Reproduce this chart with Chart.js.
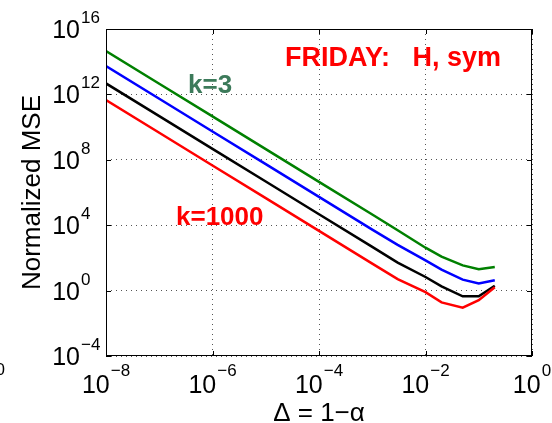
<!DOCTYPE html>
<html>
<head>
<meta charset="utf-8">
<script src="https://cdn.jsdelivr.net/npm/chart.js@4"></script>
<style>
  html, body { margin: 0; padding: 0; background: #fff; }
  canvas { display: block; }
</style>
</head>
<body>
<canvas id="mseChart" width="552" height="423"></canvas>
<script>
// Delta = 1 - alpha values where the MSE was evaluated
const deltaValues = [1e-8, 1e-7, 1e-6, 1e-5, 1e-4, 1e-3, 3e-3, 1e-2, 2e-2, 5e-2, 1e-1, 2e-1];

// Normalized MSE for each k (green is k=3, red is k=1000)
const mseGreen = [4.5e14, 4.5e12, 4.5e10, 4.5e8, 4.5e6, 4.5e4, 4.9e3, 420, 120, 35, 20, 28];
const mseBlue  = [5.4e13, 5.4e11, 5.4e9, 5.4e7, 5.4e5, 5.4e3, 630, 71, 19, 4.7, 2.7, 4.3];
const mseBlack = [4.7e12, 4.7e10, 4.7e8, 4.7e6, 4.7e4, 470, 51, 6.8, 1.8, 0.45, 0.45, 2.0];
const mseRed   = [4.5e11, 4.5e9, 4.5e7, 4.5e5, 4.5e3, 45, 5.0, 0.81, 0.19, 0.091, 0.26, 1.6];

// tick labels are written as 10^exp
const xTickExps = [-8, -6, -4, -2, 0];
const yTickExps = [-4, 0, 4, 8, 12, 16];

const FONT = '"Liberation Sans", Arial, Helvetica, sans-serif';

function toPoints(ys) {
    return deltaValues.map((x, i) => ({ x: x, y: ys[i] }));
}

function makeLine(ys, color, order) {
    return {
        data: toPoints(ys),
        borderColor: color,
        backgroundColor: color,
        borderWidth: 2.5,
        pointRadius: 0,
        tension: 0,
        fill: false,
        order: order
    };
}

function supText(exp) {
    return exp < 0 ? '\u2212' + Math.abs(exp) : String(exp);
}

// draws box, inward ticks, 10^n tick labels, axis titles and text notes
const axesDecor = {
    id: 'axesDecor',
    afterDatasetsDraw(chart) {
        const ctx = chart.ctx;
        const area = chart.chartArea;
        const xs = chart.scales.x;
        const ys = chart.scales.y;

        ctx.save();
        ctx.strokeStyle = '#000';
        ctx.lineWidth = 1;
        ctx.strokeRect(area.left + 0.5, area.top + 0.5, area.right - area.left - 1, area.bottom - area.top - 1);

        ctx.beginPath();
        xTickExps.forEach(e => {
            const px = Math.round(xs.getPixelForValue(Math.pow(10, e))) + 0.5;
            ctx.moveTo(px, area.bottom); ctx.lineTo(px, area.bottom - 5);
            ctx.moveTo(px, area.top); ctx.lineTo(px, area.top + 5);
        });
        yTickExps.forEach(e => {
            const py = Math.round(ys.getPixelForValue(Math.pow(10, e))) + 0.5;
            ctx.moveTo(area.left, py); ctx.lineTo(area.left + 5, py);
            ctx.moveTo(area.right, py); ctx.lineTo(area.right - 5, py);
        });
        ctx.stroke();

        ctx.fillStyle = '#000';
        ctx.textBaseline = 'alphabetic';

        // x tick labels, centred on the tick
        xTickExps.forEach(e => {
            const px = xs.getPixelForValue(Math.pow(10, e));
            ctx.font = '25px ' + FONT;
            const wBase = ctx.measureText('10').width;
            ctx.font = '17px ' + FONT;
            const wSup = ctx.measureText(supText(e)).width;
            const left = px - (wBase + wSup + 1) / 2;
            ctx.textAlign = 'left';
            ctx.font = '25px ' + FONT;
            ctx.fillText('10', left, 393);
            ctx.font = '17px ' + FONT;
            ctx.fillText(supText(e), left + wBase + 1, 376);
        });

        // y tick labels, right edge of "10" fixed
        yTickExps.forEach(e => {
            const py = ys.getPixelForValue(Math.pow(10, e));
            ctx.font = '25px ' + FONT;
            ctx.textAlign = 'right';
            ctx.fillText('10', 80, py + 9);
            ctx.font = '17px ' + FONT;
            ctx.textAlign = 'left';
            ctx.fillText(supText(e), 81, py - 6);
        });

        // axis titles
        ctx.font = '26px ' + FONT;
        ctx.textAlign = 'center';
        ctx.fillText('\u0394 = 1\u2212\u03b1', (area.left + area.right) / 2, 421);

        ctx.save();
        ctx.translate(40, (area.top + area.bottom) / 2);
        ctx.rotate(-Math.PI / 2);
        ctx.fillText('Normalized MSE', 0, 0);
        ctx.restore();

        // leftover superscript at the far left edge
        ctx.font = '17px ' + FONT;
        ctx.textAlign = 'right';
        ctx.fillText('0', 5, 375);

        // notes inside the axes
        ctx.textAlign = 'left';
        ctx.font = 'bold 27px ' + FONT;
        ctx.fillStyle = '#ff0000';
        ctx.fillText('FRIDAY:   H, sym', 285, 66);
        ctx.font = 'bold 26px ' + FONT;
        ctx.fillText('k=1000', 176, 225);
        ctx.fillStyle = '#3c7a5a';
        ctx.fillText('k=3', 188, 93);
        ctx.restore();
    }
};

function logAxis(min, max, exps) {
    return {
        type: 'logarithmic',
        min: min,
        max: max,
        afterBuildTicks: scale => {
            scale.ticks = exps.map(e => ({ value: Math.pow(10, e) }));
        },
        ticks: { display: false },
        grid: {
            color: '#555',
            lineWidth: 1,
            drawTicks: false
        },
        border: { display: false, dash: [1, 4] }
    };
}

const chartConfig = {
    type: 'line',
    data: {
        datasets: [
            makeLine(mseGreen, '#008000', 4),
            makeLine(mseBlue, '#0000ff', 3),
            makeLine(mseBlack, '#000000', 2),
            makeLine(mseRed, '#ff0000', 1)
        ]
    },
    options: {
        responsive: false,
        animation: false,
        devicePixelRatio: 1,
        layout: { padding: { left: 106, right: 20, top: 29, bottom: 67 } },
        plugins: {
            legend: { display: false },
            tooltip: { enabled: false }
        },
        scales: {
            x: logAxis(1e-8, 1, xTickExps),
            y: logAxis(1e-4, 1e16, yTickExps)
        }
    },
    plugins: [axesDecor]
};

new Chart(document.getElementById('mseChart'), chartConfig);
</script>
</body>
</html>
